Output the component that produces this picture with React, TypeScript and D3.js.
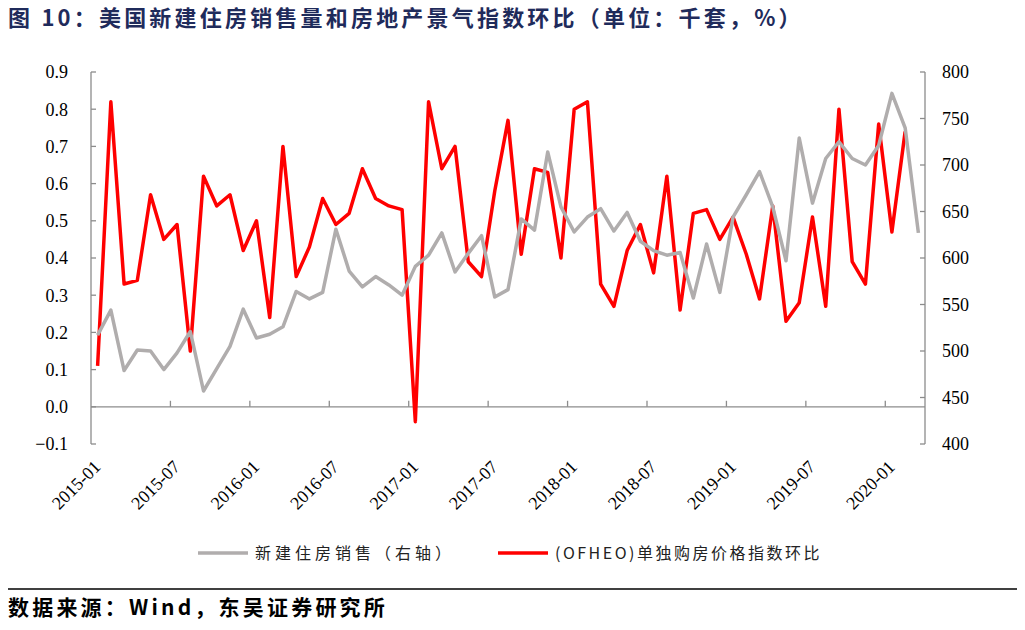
import * as d3 from "d3"

// 新建住房销售（千套，右轴）, 2015-01 .. 2020-03
const salesData = [
  517, 544, 479, 501, 500, 480, 498, 521, 457, 481, 505, 545, 514, 518, 526, 564, 556, 563, 631, 586,
  569, 580, 571, 560, 591, 603, 627, 585, 605, 624, 558, 566, 642, 630, 714, 655, 628, 644, 653, 629,
  649, 618, 608, 603, 606, 557, 615, 563, 644, 668, 693, 655, 597, 729, 659, 707, 725, 707, 700, 721,
  777, 740, 627,
]

// (OFHEO)单独购房价格指数环比（%）, 2015-01 .. 2020-02
const hpiData = [
  0.11, 0.82, 0.33, 0.34, 0.57, 0.45, 0.49, 0.15, 0.62, 0.54, 0.57, 0.42, 0.5, 0.24, 0.7, 0.35, 0.43, 0.56,
  0.49, 0.52, 0.64, 0.56, 0.54, 0.53, -0.04, 0.82, 0.64, 0.7, 0.39, 0.35, 0.58, 0.77, 0.41, 0.64, 0.63, 0.4,
  0.8, 0.82, 0.33, 0.27, 0.42, 0.49, 0.36, 0.62, 0.26, 0.52, 0.53, 0.45, 0.51, 0.41, 0.29, 0.54, 0.23, 0.28,
  0.51, 0.27, 0.8, 0.39, 0.33, 0.76, 0.47, 0.74,
]

const xTickLabels = [
  "2015-01", "2015-07", "2016-01", "2016-07", "2017-01", "2017-07",
  "2018-01", "2018-07", "2019-01", "2019-07", "2020-01",
]
const leftTicks = [-0.1, 0, 0.1, 0.2, 0.3, 0.4, 0.5, 0.6, 0.7, 0.8, 0.9]
const rightTicks = [400, 450, 500, 550, 600, 650, 700, 750, 800]

const months: string[] = []
for (let i = 0; i < salesData.length; i++) {
  const y = 2015 + Math.floor(i / 12)
  const m = (i % 12) + 1
  months.push(`${y}-${m < 10 ? "0" + m : m}`)
}

const W = 1025
const H = 630
const plot = { left: 91, right: 925, top: 72, bottom: 444 }
const axisColor = "#8c8c8c"
const serif = { fontFamily: "'Liberation Serif', 'Times New Roman', 'DejaVu Serif', serif" }
const cjk = { fontFamily: "'Noto Sans CJK SC', sans-serif" }

export default function App() {
  const x = d3.scaleBand<string>().domain(months).range([plot.left, plot.right]).padding(0)
  const bw = x.bandwidth()
  const cx = (i: number) => (x(months[i]) as number) + bw / 2

  const yL = d3.scaleLinear().domain([-0.1, 0.9]).range([plot.bottom, plot.top])
  const yR = d3.scaleLinear().domain([400, 800]).range([plot.bottom, plot.top])
  const zeroY = yL(0)

  const redLine = d3
    .line<number>()
    .x((_, i) => cx(i))
    .y((d) => yL(d))
  const grayLine = d3
    .line<number>()
    .x((_, i) => cx(i))
    .y((d) => yR(d))

  // x-axis ticks at every 6th category boundary
  const boundaryTicks = xTickLabels.slice(1).map((m) => x(m) as number)

  return (
    <svg
      width={W}
      height={H}
      style={{ position: "absolute", left: 0, top: 0, background: "#fff" }}
    >
      {/* title */}
      <text x={8} y={26} style={cjk} fontSize={22} fontWeight="bold" letterSpacing={3.2} fill="#1f2b5b">
        图 10：美国新建住房销售量和房地产景气指数环比（单位：千套，%）
      </text>

      {/* left axis */}
      <line x1={plot.left} x2={plot.left} y1={plot.top} y2={plot.bottom} stroke={axisColor} strokeWidth={1.3} />
      {leftTicks.map((t) => (
        <g key={"l" + t}>
          <line x1={plot.left} x2={plot.left + 5} y1={yL(t)} y2={yL(t)} stroke={axisColor} strokeWidth={1.3} />
          <text x={68} y={yL(t)} dy="0.35em" textAnchor="end" style={serif} fontSize={18} fill="#000">
            {d3.format(".1f")(t)}
          </text>
        </g>
      ))}

      {/* right axis */}
      <line x1={plot.right} x2={plot.right} y1={plot.top} y2={plot.bottom} stroke={axisColor} strokeWidth={1.3} />
      {rightTicks.map((t) => (
        <g key={"r" + t}>
          <line x1={plot.right - 5} x2={plot.right} y1={yR(t)} y2={yR(t)} stroke={axisColor} strokeWidth={1.3} />
          <text x={942} y={yR(t)} dy="0.35em" style={serif} fontSize={18} fill="#000">
            {t}
          </text>
        </g>
      ))}

      {/* category axis at zero */}
      <line x1={plot.left} x2={plot.right} y1={zeroY} y2={zeroY} stroke={axisColor} strokeWidth={1.3} />
      {boundaryTicks.map((bx, i) => (
        <line key={"b" + i} x1={bx} x2={bx} y1={zeroY - 6} y2={zeroY} stroke={axisColor} strokeWidth={1.3} />
      ))}
      {xTickLabels.map((lab) => {
        const px = (x(lab) as number) + bw / 2 + 4
        const py = 468
        return (
          <text
            key={lab}
            x={px}
            y={py}
            textAnchor="end"
            transform={`rotate(-45 ${px} ${py})`}
            style={serif}
            fontSize={18}
            fill="#000"
          >
            {lab}
          </text>
        )
      })}

      {/* series */}
      <path d={redLine(hpiData) || ""} fill="none" stroke="#ff0000" strokeWidth={3.5} strokeLinejoin="round" />
      <path d={grayLine(salesData) || ""} fill="none" stroke="#b0adad" strokeWidth={3.5} strokeLinejoin="round" />

      {/* legend */}
      <line x1={198} x2={248} y1={553} y2={553} stroke="#b0adad" strokeWidth={3.5} />
      <text x={255} y={553} dy="0.35em" style={cjk} fontSize={16} letterSpacing={4} fill="#222">
        新建住房销售（右轴）
      </text>
      <line x1={498} x2={548} y1={553} y2={553} stroke="#ff0000" strokeWidth={3.5} />
      <text x={555} y={553} dy="0.35em" style={cjk} fontSize={16} letterSpacing={2.5} fill="#222">
        (OFHEO)单独购房价格指数环比
      </text>

      {/* footer */}
      <line x1={8} x2={1017} y1={589} y2={589} stroke="#000" strokeWidth={1.5} />
      <text x={8} y={615} style={cjk} fontSize={21} fontWeight="bold" letterSpacing={3.2} fill="#000">
        数据来源：Wind，东吴证券研究所
      </text>
    </svg>
  )
}
